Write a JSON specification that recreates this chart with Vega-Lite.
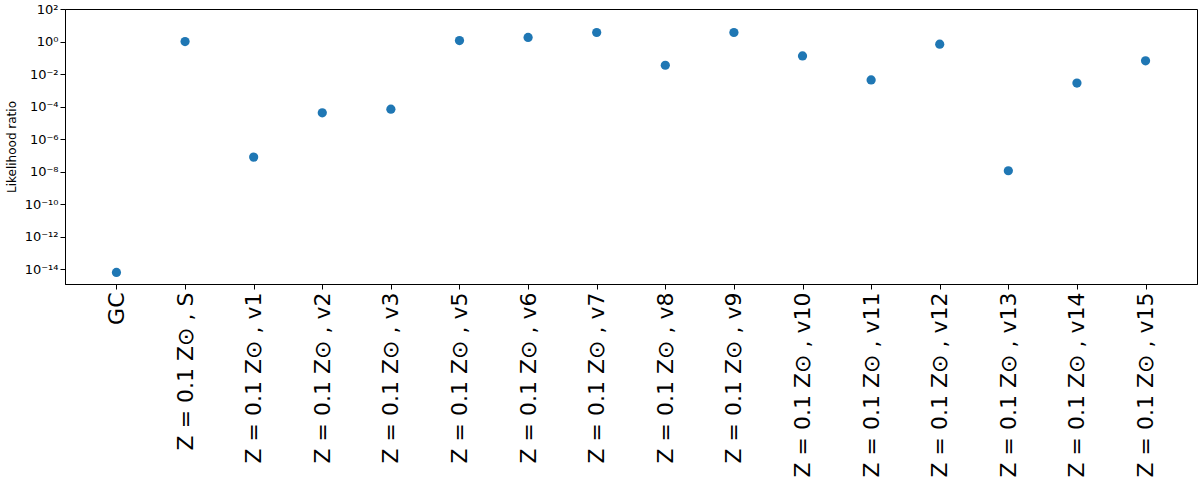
{
  "$schema": "https://vega.github.io/schema/vega-lite/v6.json",
  "autosize": {"type": "none"},
  "width": 1132,
  "height": 275,
  "padding": {"left": 65, "top": 9, "right": 3, "bottom": 199},
  "background": "white",
  "config": {
    "view": {"stroke": "black", "strokeWidth": 1},
    "font": "DejaVu Sans"
  },
  "data": {
    "values": [
      {"model": "GC", "ratio": 6.5e-15},
      {"model": "Z = 0.1 Z⊙ , S", "ratio": 1.0},
      {"model": "Z = 0.1 Z⊙ , v1", "ratio": 7.9e-8},
      {"model": "Z = 0.1 Z⊙ , v2", "ratio": 4.2e-5},
      {"model": "Z = 0.1 Z⊙ , v3", "ratio": 7.0e-5},
      {"model": "Z = 0.1 Z⊙ , v5", "ratio": 1.15},
      {"model": "Z = 0.1 Z⊙ , v6", "ratio": 1.8},
      {"model": "Z = 0.1 Z⊙ , v7", "ratio": 3.6},
      {"model": "Z = 0.1 Z⊙ , v8", "ratio": 0.035},
      {"model": "Z = 0.1 Z⊙ , v9", "ratio": 3.6},
      {"model": "Z = 0.1 Z⊙ , v10", "ratio": 0.13},
      {"model": "Z = 0.1 Z⊙ , v11", "ratio": 0.0044},
      {"model": "Z = 0.1 Z⊙ , v12", "ratio": 0.69},
      {"model": "Z = 0.1 Z⊙ , v13", "ratio": 1.15e-8},
      {"model": "Z = 0.1 Z⊙ , v14", "ratio": 0.0028},
      {"model": "Z = 0.1 Z⊙ , v15", "ratio": 0.065}
    ]
  },
  "mark": {"type": "circle", "size": 85, "opacity": 1, "color": "#1f77b4"},
  "encoding": {
    "x": {
      "field": "model",
      "type": "nominal",
      "sort": null,
      "scale": {"type": "point", "padding": 0.75},
      "axis": {
        "title": null,
        "labelAngle": -90,
        "labelFontSize": 22,
        "labelColor": "black",
        "labelPadding": 3,
        "labelLimit": 300,
        "tickColor": "black",
        "tickSize": 5,
        "domainColor": "black",
        "grid": false
      }
    },
    "y": {
      "field": "ratio",
      "type": "quantitative",
      "scale": {"type": "log", "domain": [1.26e-15, 100], "nice": false, "zero": false},
      "axis": {
        "title": "Likelihood ratio",
        "titleFontSize": 12,
        "titleFontWeight": "normal",
        "titleColor": "black",
        "titlePadding": 6,
        "values": [1e-14, 1e-12, 1e-10, 1e-8, 1e-6, 1e-4, 1e-2, 1, 100],
        "labelExpr": "'10' + replace(replace(replace(replace(replace(replace(replace(replace(replace(replace(replace('' + round(log(datum.value)/LN10), /-/g, '⁻'), /0/g, '⁰'), /1/g, '¹'), /2/g, '²'), /3/g, '³'), /4/g, '⁴'), /5/g, '⁵'), /6/g, '⁶'), /7/g, '⁷'), /8/g, '⁸'), /9/g, '⁹')",
        "labelFontSize": 13,
        "labelColor": "black",
        "tickColor": "black",
        "tickSize": 5,
        "domainColor": "black",
        "grid": false
      }
    }
  }
}
